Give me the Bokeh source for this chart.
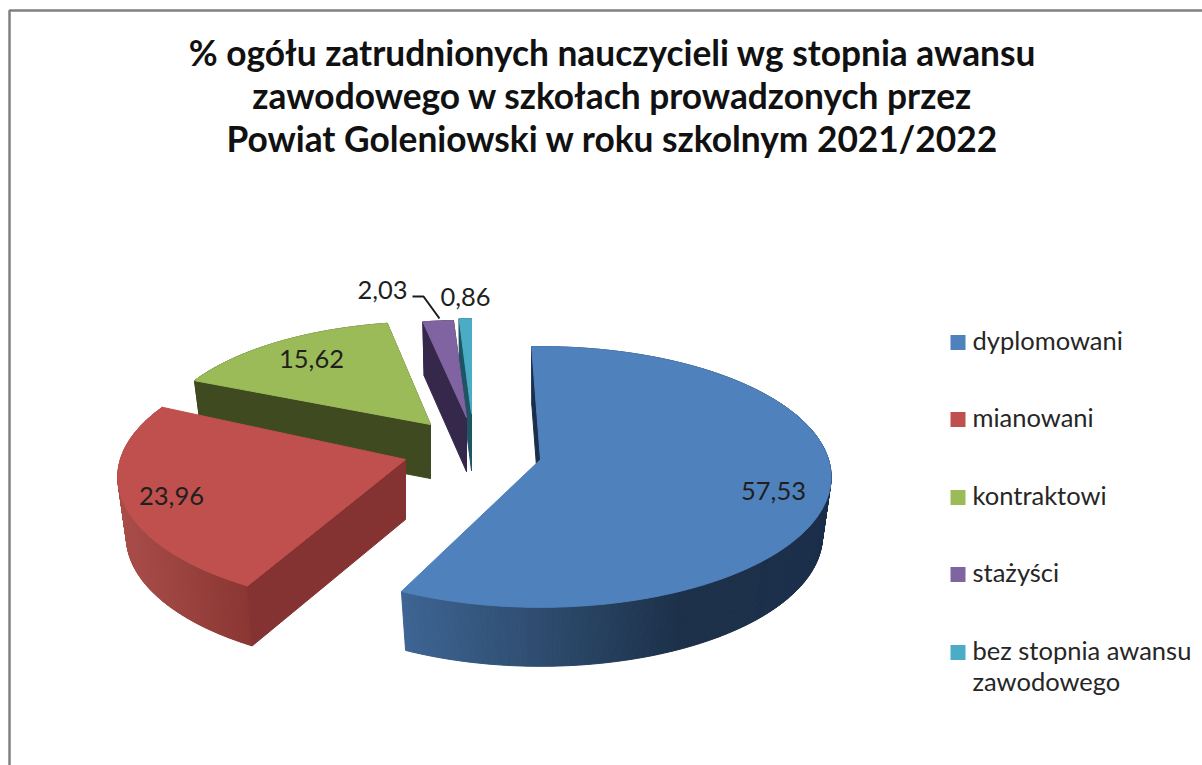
import math
from bokeh.plotting import figure
from bokeh.models import Range1d
from bokeh.core.properties import value
from bokeh.embed import file_html
from bokeh.resources import INLINE

title_lines = ["% ogółu zatrudnionych nauczycieli wg stopnia awansu",
               "zawodowego w szkołach prowadzonych przez",
               "Powiat Goleniowski w roku szkolnym 2021/2022"]
categories = ["dyplomowani", "mianowani", "kontraktowi", "stażyści", "bez stopnia awansu\nzawodowego"]
values_pct = [57.53, 23.96, 15.62, 2.03, 0.86]
labels = ["57,53", "23,96", "15,62", "2,03", "0,86"]
colors = ["#4f81bd", "#c0504d", "#9bbb59", "#8064a2", "#4bacc6"]
radial_wall = ["#1b2f4a", "#853332", "#3f4a20", "#35284a", "#1d5564"]
# layout of each exploded slice: apex x, apex y, scale x, scale y, rotation (deg), depth
slice_layout = [(540, 459, 1.0, 1.0, -2.0, 59),
                (405, 459, 0.99, 1.0, 2.2, 60),
                (430, 424, 0.94, 0.91, 0, 54),
                (466, 417, 0.95, 0.86, 0, 54),
                (471, 413, 0.90, 0.84, 0, 57)]
wall_stops = [[(403, "#3d6492"), (560, "#2b4869"), (680, "#1c3049"), (840, "#1b2f4a")],
              [(115, "#aa4e4a"), (245, "#8a3633")],
              [(0, "#3f4a20"), (500, "#3f4a20")],
              [(0, "#35284a"), (500, "#35284a")],
              [(0, "#1d5564"), (500, "#1d5564")]]
label_pos = [(773, 490), (171, 495), (311, 358), (382, 289), (465, 296)]
legend_y = [342, 419, 497, 574, 652]
RX, RY, K = 288.0, 128.0, 0.134
FONT = value("Lato")

p = figure(width=1202, height=765, x_range=Range1d(0, 1202), y_range=Range1d(765, 0),
           output_backend="svg", toolbar_location=None, min_border=0)
p.axis.visible = False
p.grid.visible = False
p.outline_line_color = None


def project(theta, lay):
    ax, ay, sx, sy, rot, _ = lay
    t = math.radians(theta + rot)
    u, v = math.sin(t), -math.cos(t)
    d = 1 - K * v
    return ax + sx * RX * u / d, ay + sy * RY * v / d


def lower(pt, lay):
    return lay[0] + 0.97 * (pt[0] - lay[0]), pt[1] + lay[5]


def hex_rgb(c):
    return tuple(int(c[i:i + 2], 16) for i in (1, 3, 5))


def shade(x, stops):
    if x <= stops[0][0]:
        return stops[0][1]
    for (x0, c0), (x1, c1) in zip(stops, stops[1:]):
        if x <= x1:
            f = (x - x0) / (x1 - x0)
            a, b = hex_rgb(c0), hex_rgb(c1)
            return "#%02x%02x%02x" % tuple(round(a[i] + f * (b[i] - a[i])) for i in range(3))
    return stops[-1][1]


# frame
p.line([9, 9, 1202], [765, 10, 10], line_color="#808080", line_width=2.5)

# slices back to front
total = sum(values_pct)
starts = [sum(values_pct[:i]) / total * 360 for i in range(len(values_pct))]
ends = [sum(values_pct[:i + 1]) / total * 360 for i in range(len(values_pct))]

for i in [4, 3, 2, 1, 0]:
    lay = slice_layout[i]
    n = max(2, int(ends[i] - starts[i]) * 2)
    thetas = [starts[i] + (ends[i] - starts[i]) * k / n for k in range(n + 1)]
    arc = [project(t, lay) for t in thetas]
    apex = (lay[0], lay[1])
    xs, ys, cs = [], [], []
    for a, b in zip(arc, arc[1:]):
        la, lb = lower(a, lay), lower(b, lay)
        xs.append([a[0], b[0], lb[0], la[0]])
        ys.append([a[1], b[1], lb[1], la[1]])
        cs.append(shade((a[0] + b[0]) / 2, wall_stops[i]))
    p.patches(xs, ys, fill_color=cs, line_color=cs, line_width=1)
    # radial walls
    lapex = (apex[0], apex[1] + lay[5])
    for e, col in ((arc[0], radial_wall[i]), (arc[-1], radial_wall[i])):
        if i in (0, 1) and e is arc[-1]:
            continue
        le = lower(e, lay)
        p.patch([e[0], apex[0], lapex[0], le[0]], [e[1], apex[1], lapex[1], le[1]],
                fill_color=col, line_color=col, line_width=1)
    # top face
    p.patch([apex[0]] + [a[0] for a in arc], [apex[1]] + [a[1] for a in arc],
            fill_color=colors[i], line_color=colors[i], line_width=1)

# data labels and leader
p.line([412, 423, 439], [296, 296, 318], line_color="#1a1a1a", line_width=2)
p.text([q[0] for q in label_pos], [q[1] for q in label_pos], text=labels,
       text_font=FONT, text_font_size="25.5px", text_color="#1f1f1f",
       text_align="center", text_baseline="middle")

# title
p.text([612, 612, 612], [52, 95, 138], text=title_lines, text_font=FONT, text_font_style="bold",
       text_font_size="35.3px", text_color="#111111", text_align="center", text_baseline="middle")

# legend
p.rect([957.5] * 5, legend_y, width=15, height=15, fill_color=colors, line_color=None)
leg_x, leg_y, leg_t = [], [], []
for y, c in zip(legend_y, categories):
    for j, part in enumerate(c.split("\n")):
        leg_x.append(972)
        leg_y.append(y - 3 + j * 31)
        leg_t.append(part)
p.text(leg_x, leg_y, text=leg_t, text_font=FONT, text_font_size="25.5px", text_color="#262626",
       text_align="left", text_baseline="middle")

open("out.html", "w").write(file_html(p, INLINE))
